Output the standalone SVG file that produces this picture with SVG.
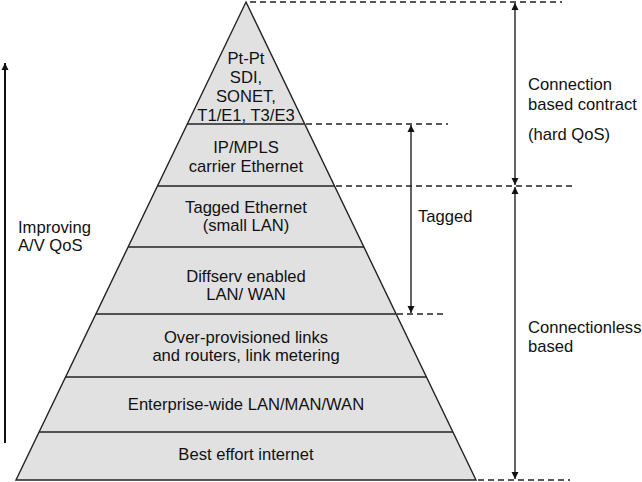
<svg xmlns="http://www.w3.org/2000/svg" width="642" height="482" viewBox="0 0 642 482">
<defs>
<style>
text{font-family:"Liberation Sans",Arial,sans-serif;font-size:16.6px;fill:#111}
.c{text-anchor:middle}
.band{stroke:#222;stroke-width:1.4;fill:none}
.dash{stroke:#222;stroke-width:1.3;stroke-dasharray:6,4;fill:none}
.arr{stroke:#222;stroke-width:1.4;fill:none}
</style>
<marker id="ah" viewBox="0 0 10 10" refX="10" refY="5" markerWidth="7" markerHeight="9" orient="auto-start-reverse" markerUnits="userSpaceOnUse">
<path d="M0,0 L10,5 L0,10 z" fill="#111"/>
</marker>
</defs>
<rect width="642" height="482" fill="#fff"/>
<g id="pyramid">
<polygon points="246,2 476,480 16,480" fill="#e1e1e1" stroke="#222" stroke-width="1.4"/>
</g>
<g id="layer-ptpt"><text class="c" x="246" y="64">Pt-Pt</text><text class="c" x="246" y="83">SDI,</text><text class="c" x="246" y="102">SONET,</text><text class="c" x="246" y="121">T1/E1, T3/E3</text></g>
<g id="layer-ipmpls"><line class="band" x1="187.3" y1="124" x2="304.7" y2="124"/><text class="c" x="246" y="153">IP/MPLS</text><text class="c" x="246" y="172">carrier Ethernet</text></g>
<g id="layer-tagged"><line class="band" x1="157.5" y1="186" x2="334.5" y2="186"/><text class="c" x="246" y="213">Tagged Ethernet</text><text class="c" x="246" y="231">(small LAN)</text></g>
<g id="layer-diffserv"><line class="band" x1="128.1" y1="247" x2="363.9" y2="247"/><text class="c" x="246" y="282">Diffserv enabled</text><text class="c" x="246" y="300">LAN/ WAN</text></g>
<g id="layer-overprov"><line class="band" x1="95.9" y1="314" x2="396.1" y2="314"/><text class="c" x="246" y="343">Over-provisioned links</text><text class="c" x="246" y="361">and routers, link metering</text></g>
<g id="layer-enterprise"><line class="band" x1="65.6" y1="377" x2="426.4" y2="377"/><text class="c" x="246" y="410">Enterprise-wide LAN/MAN/WAN</text></g>
<g id="layer-besteffort"><line class="band" x1="39.1" y1="432" x2="452.9" y2="432"/><text class="c" x="246" y="460">Best effort internet</text></g>
<g id="label-improving"><text x="18" y="233">Improving</text><text x="18" y="251">A/V QoS</text></g>
<g id="label-connection"><text x="528" y="90">Connection</text><text x="528" y="110">based contract</text><text x="528" y="140">(hard QoS)</text></g>
<g id="label-tagged"><text x="418" y="222">Tagged</text></g>
<g id="label-connectionless"><text x="528" y="333">Connectionless</text><text x="528" y="352">based</text></g>
<g id="connectors">
<line class="dash" x1="250" y1="2" x2="562" y2="2"/>
<line class="dash" x1="306" y1="124" x2="448" y2="124"/>
<line class="dash" x1="336" y1="186" x2="575" y2="186"/>
<line class="dash" x1="397" y1="314" x2="447" y2="314"/>
<line class="dash" x1="478" y1="480" x2="570" y2="480"/>
<line x1="5" y1="443" x2="5" y2="63" stroke="#111" stroke-width="2" marker-end="url(#ah)"/>
<line class="arr" x1="515" y1="3" x2="515" y2="185" marker-start="url(#ah)" marker-end="url(#ah)"/>
<line class="arr" x1="515" y1="187" x2="515" y2="479" marker-start="url(#ah)" marker-end="url(#ah)"/>
<line class="arr" x1="411" y1="125" x2="411" y2="313" marker-start="url(#ah)" marker-end="url(#ah)"/>
</g>
</svg>
